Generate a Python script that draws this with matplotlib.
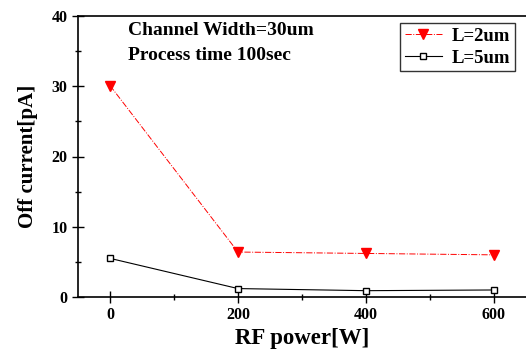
import matplotlib
matplotlib.use('Agg')
import matplotlib.pyplot as plt
from matplotlib.ticker import MultipleLocator

plt.rcParams['font.family'] = ['Liberation Serif', 'DejaVu Serif']
plt.rcParams['font.weight'] = 'bold'

rf_power = [0, 200, 400, 600]
l2um = [30.1, 6.4, 6.2, 6.0]
l5um = [5.5, 1.2, 0.9, 1.0]

fig = plt.figure(figsize=(5.26, 3.58), dpi=100)
ax = fig.add_axes([78/526, 61/358, 1 - 78/526, 281/358])

ax.plot(rf_power, l2um, color='red', linestyle='-.', linewidth=0.7,
        marker='v', markersize=7, markerfacecolor='red', markeredgecolor='red',
        label='L=2um')
ax.plot(rf_power, l5um, color='black', linestyle='-', linewidth=0.8,
        marker='s', markersize=5, markerfacecolor='white', markeredgecolor='black',
        markeredgewidth=1.0, label='L=5um')

ax.set_xlim(-50, 650)
ax.set_ylim(0, 40)
ax.xaxis.set_major_locator(MultipleLocator(200))
ax.xaxis.set_minor_locator(MultipleLocator(100))
ax.yaxis.set_major_locator(MultipleLocator(10))
ax.yaxis.set_minor_locator(MultipleLocator(5))
ax.tick_params(which='major', direction='inout', length=8, width=1, labelsize=11.5)
ax.tick_params(which='minor', direction='inout', length=5, width=1)
ax.tick_params(axis='x', pad=3)
ax.spines['right'].set_visible(False)
for s in ['left', 'bottom', 'top']:
    ax.spines[s].set_linewidth(1.2)

ax.set_xlabel('RF power[W]', fontsize=16.5, fontweight='bold', labelpad=4)
ax.set_ylabel('Off current[pA]', fontsize=15, fontweight='bold', labelpad=10)

ax.text(0.112, 0.95, 'Channel Width=30um', transform=ax.transAxes,
        fontsize=14, fontweight='bold', va='center')
ax.text(0.112, 0.861, 'Process time 100sec', transform=ax.transAxes,
        fontsize=14, fontweight='bold', va='center')

leg = ax.legend(loc='upper right', bbox_to_anchor=(0.975, 0.975), borderaxespad=0,
                fontsize=13.5, fancybox=False, edgecolor='black', handlelength=2.0,
                borderpad=0.25, labelspacing=0.25, handletextpad=0.5)
leg.get_frame().set_linewidth(1.0)

fig.savefig('out.png', dpi=100)
